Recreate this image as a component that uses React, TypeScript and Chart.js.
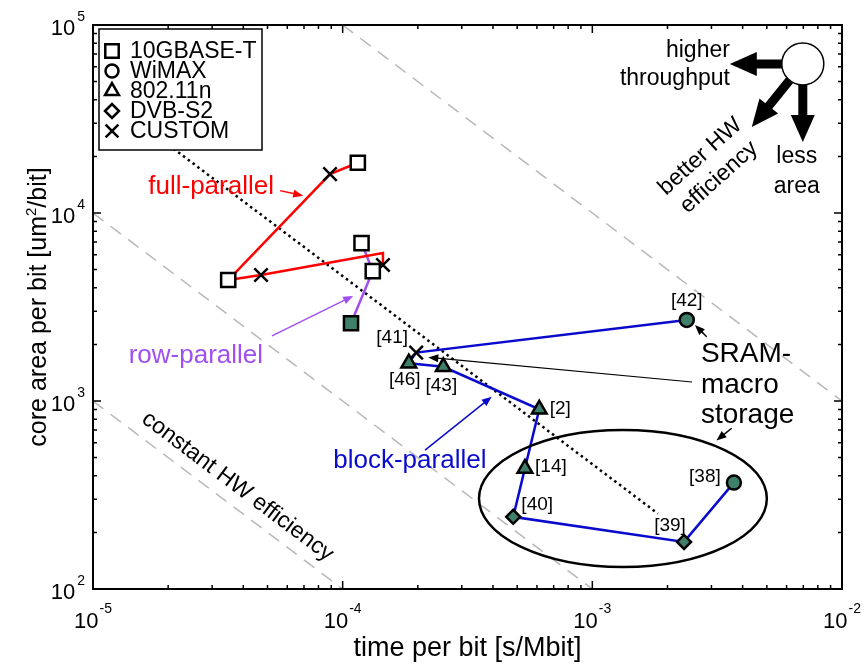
import React, { useEffect, useRef } from 'react';
import { Chart, registerables } from 'chart.js';

Chart.register(...registerables);

const GREEN = '#3f806a';
const RED = '#ff0000';
const PURPLE = '#a04ff0';
const BLUE = '#0a0acc';
const GREY = '#b8b8b8';
const FONT = '"Liberation Sans", Arial, Helvetica, sans-serif';

// ---------------- data ----------------
// 10GBASE-T (squares)
const squareX = [3.48e-5, 1.15e-4, 1.19e-4, 1.32e-4, 1.08e-4];
const squareY = [4.4e3, 1.85e4, 6.92e3, 4.91e3, 2.59e3];
const squareFilled = [false, false, false, false, true];
// WiMAX (circles)
const circleX = [2.39e-3, 3.69e-3];
const circleY = [2.7e3, 368];
const circleRefs = ['[42]', '[38]'];
// 802.11n (triangles)
const triangleX = [1.84e-4, 2.53e-4, 6.13e-4, 5.37e-4];
const triangleY = [1.59e3, 1.52e3, 903, 438];
const triangleRefs = ['[46]', '[43]', '[2]', '[14]'];
// DVB-S2 (diamonds)
const diamondX = [4.82e-4, 2.33e-3];
const diamondY = [242, 178];
const diamondRefs = ['[40]', '[39]'];
// CUSTOM (crosses)
const customX = [8.9e-5, 4.71e-5, 1.45e-4, 1.97e-4];
const customY = [1.61e4, 4.68e3, 5.29e3, 1.81e3];
const customRefs = ['', '', '', '[41]'];

// architecture connection lines
const fullParallelAX = [3.48e-5, 8.9e-5, 1.15e-4];
const fullParallelAY = [4.4e3, 1.61e4, 1.85e4];
const fullParallelBX = [3.48e-5, 4.71e-5, 1.45e-4, 1.45e-4];
const fullParallelBY = [4.4e3, 4.68e3, 6.13e3, 5.29e3];
const rowParallelX = [1.19e-4, 1.32e-4, 1.08e-4];
const rowParallelY = [6.92e3, 4.91e3, 2.59e3];
const blockParallelX = [2.39e-3, 1.97e-4, 1.84e-4, 2.53e-4, 6.13e-4, 5.37e-4, 4.82e-4, 2.33e-3, 3.69e-3];
const blockParallelY = [2.7e3, 1.81e3, 1.59e3, 1.52e3, 903, 438, 242, 178, 368];

// constant HW efficiency reference lines (area*time = const)
const effHighX = [1e-4, 1e-2];
const effHighY = [1e5, 1e3];
const effMidX = [1e-5, 1e-3];
const effMidY = [1e4, 1e2];
const effLowX = [1e-5, 1e-4];
const effLowY = [1e3, 1e2];
// dotted trend line
const trendX = [2.1e-5, 1.83e-3];
const trendY = [2.2e4, 252];

// axis ranges
const xMin = 1e-5, xMax = 1e-2, yMin = 1e2, yMax = 1e5;

const legendNames = ['10GBASE-T', 'WiMAX', '802.11n', 'DVB-S2', 'CUSTOM'];
const legendStyles = ['rect', 'circle', 'triangle', 'rectRot', 'crossRot'];

// reference label offsets (px) relative to their marker
const refOffsets: Record<string, [number, number]> = {
  '[42]': [0, -19], '[38]': [-29, -6], '[46]': [-4, 17], '[43]': [-2, 19],
  '[2]': [21, -1], '[14]': [26, -2], '[40]': [24, -12], '[39]': [-14, -16], '[41]': [-24, -15],
};

// annotations in log10 data coordinates
const textNotes = [
  { lines: ['full-parallel'], lx: -4.527, ly: 4.138, color: RED, size: 26, align: 'center' },
  { lines: ['row-parallel'], lx: -4.588, ly: 3.239, color: PURPLE, size: 26, align: 'center' },
  { lines: ['block-parallel'], lx: -3.731, ly: 2.681, color: BLUE, size: 26, align: 'center' },
];
const arrowNotes = [
  { from: [-4.251, 4.119], to: [-4.158, 4.092], color: RED, w: 1.5 },
  { from: [-4.283, 3.346], to: [-3.958, 3.559], color: PURPLE, w: 1.5 },
  { from: [-3.670, 2.739], to: [-3.403, 3.023], color: BLUE, w: 1.5 },
  { from: [-2.542, 3.342], to: [-2.589, 3.404], color: '#000', w: 1.5 },
  { from: [-2.601, 3.101], to: [-3.657, 3.232], color: '#000', w: 1.2 },
  { from: [-2.442, 2.855], to: [-2.503, 2.790], color: '#000', w: 1.5 },
];
const ellipseBox = { lx0: -3.454, lx1: -2.301, ly0: 2.117, ly1: 2.846 };

const zip = (xs: number[], ys: number[]) => xs.map((x, i) => ({ x, y: ys[i] }));

function drawMarker(ctx: CanvasRenderingContext2D, style: string, x: number, y: number, r: number, fill: string) {
  ctx.save();
  ctx.beginPath();
  ctx.lineWidth = 2.5;
  ctx.strokeStyle = '#000';
  ctx.fillStyle = fill;
  if (style === 'rect') {
    const s = r * Math.SQRT1_2;
    ctx.rect(x - s, y - s, 2 * s, 2 * s);
  } else if (style === 'circle') {
    ctx.arc(x, y, r, 0, Math.PI * 2);
  } else if (style === 'triangle') {
    for (let i = 0; i < 3; i++) {
      const a = (i * 2 * Math.PI) / 3;
      const px = x + Math.sin(a) * r, py = y - Math.cos(a) * r;
      if (i === 0) ctx.moveTo(px, py); else ctx.lineTo(px, py);
    }
    ctx.closePath();
  } else if (style === 'rectRot') {
    ctx.moveTo(x - r, y); ctx.lineTo(x, y - r); ctx.lineTo(x + r, y); ctx.lineTo(x, y + r); ctx.closePath();
  } else if (style === 'crossRot') {
    const o = r * Math.SQRT1_2;
    ctx.moveTo(x - o, y - o); ctx.lineTo(x + o, y + o);
    ctx.moveTo(x + o, y - o); ctx.lineTo(x - o, y + o);
    ctx.stroke();
    ctx.restore();
    return;
  }
  ctx.fill();
  ctx.stroke();
  ctx.restore();
}

function drawArrow(ctx: CanvasRenderingContext2D, x1: number, y1: number, x2: number, y2: number,
  color: string, lw: number, headLen: number, headHalf: number) {
  const a = Math.atan2(y2 - y1, x2 - x1);
  const c = Math.cos(a), s = Math.sin(a);
  const bx = x2 - c * headLen, by = y2 - s * headLen;
  ctx.save();
  ctx.strokeStyle = color;
  ctx.fillStyle = color;
  ctx.lineWidth = lw;
  ctx.lineCap = 'butt';
  ctx.beginPath();
  ctx.moveTo(x1, y1);
  ctx.lineTo(bx + c * 1, by + s * 1);
  ctx.stroke();
  ctx.beginPath();
  ctx.moveTo(x2, y2);
  ctx.lineTo(bx - s * headHalf, by + c * headHalf);
  ctx.lineTo(bx + s * headHalf, by - c * headHalf);
  ctx.closePath();
  ctx.fill();
  ctx.restore();
}

const decorPlugin = {
  id: 'decor',
  afterDraw(chart: any) {
    const ctx: CanvasRenderingContext2D = chart.ctx;
    const xs = chart.scales.x, ys = chart.scales.y;
    const area = chart.chartArea;
    const PX = (lx: number) => xs.getPixelForValue(Math.pow(10, lx));
    const PY = (ly: number) => ys.getPixelForValue(Math.pow(10, ly));
    const font = (sz: number) => `${sz}px ${FONT}`;

    ctx.save();
    // ellipse
    {
      const x0 = PX(ellipseBox.lx0), x1 = PX(ellipseBox.lx1);
      const y0 = PY(ellipseBox.ly1), y1 = PY(ellipseBox.ly0);
      ctx.beginPath();
      ctx.ellipse((x0 + x1) / 2, (y0 + y1) / 2, (x1 - x0) / 2, (y1 - y0) / 2, 0, 0, Math.PI * 2);
      ctx.lineWidth = 2.5;
      ctx.strokeStyle = '#000';
      ctx.stroke();
    }

    // constant HW efficiency rotated text, aligned with the efficiency lines
    {
      const ax = xs.getPixelForValue(effMidX[0]), ay = ys.getPixelForValue(effMidY[0]);
      const bx = xs.getPixelForValue(effMidX[1]), by = ys.getPixelForValue(effMidY[1]);
      const ang = Math.atan2(by - ay, bx - ax);
      ctx.save();
      ctx.translate(PX(-4.421), PY(2.545));
      ctx.rotate(ang);
      ctx.font = font(23);
      ctx.fillStyle = '#000';
      ctx.textAlign = 'center';
      ctx.textBaseline = 'middle';
      ctx.fillText('constant HW efficiency', 0, 0);
      ctx.restore();
    }

    // colored architecture labels
    for (const t of textNotes) {
      ctx.font = font(t.size);
      ctx.fillStyle = t.color;
      ctx.textAlign = t.align as CanvasTextAlign;
      ctx.textBaseline = 'middle';
      t.lines.forEach((ln, i) => ctx.fillText(ln, PX(t.lx), PY(t.ly) + i * 30));
    }

    // SRAM macro storage
    ctx.font = font(28);
    ctx.fillStyle = '#000';
    ctx.textAlign = 'left';
    ctx.textBaseline = 'alphabetic';
    ['SRAM-', 'macro', 'storage'].forEach((ln, i) => ctx.fillText(ln, PX(-2.565), PY(3.207) + i * 30.5));

    // arrows
    for (const a of arrowNotes) {
      drawArrow(ctx, PX(a.from[0]), PY(a.from[1]), PX(a.to[0]), PY(a.to[1]), a.color, a.w, 10, 4);
    }

    // reference labels next to markers
    ctx.font = font(19);
    ctx.fillStyle = '#000';
    ctx.textAlign = 'center';
    ctx.textBaseline = 'middle';
    const refSets: [number[], number[], string[]][] = [
      [circleX, circleY, circleRefs], [triangleX, triangleY, triangleRefs],
      [diamondX, diamondY, diamondRefs], [customX, customY, customRefs],
    ];
    for (const [X, Y, R] of refSets) {
      R.forEach((r, i) => {
        if (!r) return;
        const o = refOffsets[r] || [0, 0];
        ctx.fillText(r, xs.getPixelForValue(X[i]) + o[0], ys.getPixelForValue(Y[i]) + o[1]);
      });
    }

    // direction diagram (top right)
    {
      const cx = PX(-2.157), cy = PY(4.793);
      drawArrow(ctx, cx, cy, cx - 73, cy, '#000', 9, 27, 12);
      drawArrow(ctx, cx, cy, cx, cy + 78, '#000', 9, 27, 12);
      drawArrow(ctx, cx, cy, cx - 51, cy + 63, '#000', 9, 27, 12);
      ctx.beginPath();
      ctx.arc(cx, cy, 21, 0, Math.PI * 2);
      ctx.fillStyle = '#fff';
      ctx.fill();
      ctx.lineWidth = 1.5;
      ctx.strokeStyle = '#000';
      ctx.stroke();

      ctx.font = font(23);
      ctx.fillStyle = '#000';
      ctx.textAlign = 'right';
      ctx.textBaseline = 'alphabetic';
      ctx.fillText('higher', PX(-2.449), PY(4.83));
      ctx.fillText('throughput', PX(-2.449), PY(4.83) + 28);
      ctx.textAlign = 'center';
      ctx.fillText('less', PX(-2.181), PY(4.266));
      ctx.fillText('area', PX(-2.181), PY(4.266) + 30);
      ctx.save();
      ctx.translate(PX(-2.530), PY(4.245));
      ctx.rotate((-42 * Math.PI) / 180);
      ctx.textBaseline = 'middle';
      ctx.fillText('better HW', 0, -14);
      ctx.fillText('efficiency', 0, 14);
      ctx.restore();
    }

    // legend
    {
      const lx = area.left + 6, ly = area.top + 4, lw = 163, lh = 121;
      ctx.fillStyle = '#fff';
      ctx.fillRect(lx, ly, lw, lh);
      ctx.lineWidth = 1.5;
      ctx.strokeStyle = '#000';
      ctx.strokeRect(lx, ly, lw, lh);
      const radii: Record<string, number> = { rect: 9.5, circle: 6.5, triangle: 8, rectRot: 7, crossRot: 9 };
      legendNames.forEach((n, i) => {
        const yy = ly + 22 + i * 20;
        drawMarker(ctx, legendStyles[i], lx + 13, yy, radii[legendStyles[i]], '#fff');
        ctx.font = font(23);
        ctx.fillStyle = '#000';
        ctx.textAlign = 'left';
        ctx.textBaseline = 'alphabetic';
        ctx.fillText(n, lx + 31, yy + 7);
      });
    }

    // axes box and ticks (matlab style, inward, mirrored)
    ctx.strokeStyle = '#000';
    ctx.lineWidth = 2;
    ctx.strokeRect(area.left, area.top, area.right - area.left, area.bottom - area.top);
    ctx.lineWidth = 1.5;
    const tickVals = (mn: number, mx: number) => {
      const out: { v: number; major: boolean; e: number }[] = [];
      for (let e = Math.floor(Math.log10(mn)); e <= Math.ceil(Math.log10(mx)); e++) {
        for (let k = 1; k <= 9; k++) {
          const v = k * Math.pow(10, e);
          if (v >= mn * 0.999 && v <= mx * 1.001) out.push({ v, major: k === 1, e });
        }
      }
      return out;
    };
    ctx.beginPath();
    for (const t of tickVals(xMin, xMax)) {
      const p = xs.getPixelForValue(t.v);
      const len = t.major ? 8 : 4;
      ctx.moveTo(p, area.bottom); ctx.lineTo(p, area.bottom - len);
      ctx.moveTo(p, area.top); ctx.lineTo(p, area.top + len);
    }
    for (const t of tickVals(yMin, yMax)) {
      const p = ys.getPixelForValue(t.v);
      const len = t.major ? 8 : 4;
      ctx.moveTo(area.left, p); ctx.lineTo(area.left + len, p);
      ctx.moveTo(area.right, p); ctx.lineTo(area.right - len, p);
    }
    ctx.stroke();

    // tick labels 10^n
    ctx.fillStyle = '#000';
    ctx.textBaseline = 'alphabetic';
    ctx.textAlign = 'left';
    for (const t of tickVals(xMin, xMax)) {
      if (!t.major) continue;
      const p = xs.getPixelForValue(t.v);
      ctx.font = font(22);
      const wb = ctx.measureText('10').width;
      ctx.font = font(14);
      const ex = String(t.e);
      const we = ctx.measureText(ex).width;
      const start = p - (wb + we + 1) / 2;
      ctx.font = font(22);
      ctx.fillText('10', start, area.bottom + 39);
      ctx.font = font(14);
      ctx.fillText(ex, start + wb + 1, area.bottom + 24);
    }
    for (const t of tickVals(yMin, yMax)) {
      if (!t.major) continue;
      const p = ys.getPixelForValue(t.v);
      ctx.font = font(14);
      const ex = String(t.e);
      const we = ctx.measureText(ex).width;
      ctx.font = font(22);
      const wb = ctx.measureText('10').width;
      const right = area.left - 8;
      ctx.font = font(14);
      ctx.fillText(ex, right - we, p - 4);
      ctx.font = font(22);
      ctx.fillText('10', right - we - 2 - wb, p + 10);
    }

    // axis titles
    ctx.font = font(27);
    ctx.textAlign = 'center';
    ctx.fillText('time per bit [s/Mbit]', (area.left + area.right) / 2, area.bottom + 67);
    {
      ctx.save();
      ctx.translate(46, (area.top + area.bottom) / 2);
      ctx.rotate(-Math.PI / 2);
      ctx.textAlign = 'left';
      const p1 = 'core area per bit [um', p2 = '2', p3 = '/bit]';
      ctx.font = font(25);
      const w1 = ctx.measureText(p1).width, w3 = ctx.measureText(p3).width;
      ctx.font = font(15);
      const w2 = ctx.measureText(p2).width;
      let x0 = -(w1 + w2 + w3) / 2;
      ctx.font = font(25);
      ctx.fillText(p1, x0, 0);
      ctx.font = font(15);
      ctx.fillText(p2, x0 + w1, -10);
      ctx.font = font(25);
      ctx.fillText(p3, x0 + w1 + w2, 0);
      ctx.restore();
    }
    ctx.restore();
  },
};

export default function App() {
  const ref = useRef<HTMLCanvasElement>(null);
  useEffect(() => {
    document.body.style.margin = '0';
    const markerBase = { showLine: false, pointBorderColor: '#000', pointBorderWidth: 2.5, order: 0 };
    const lineBase = { showLine: true, pointRadius: 0, borderWidth: 2.5, tension: 0, fill: false, order: 1 };
    const chart = new Chart(ref.current as HTMLCanvasElement, {
      type: 'scatter',
      data: {
        datasets: [
          { label: '10GBASE-T', data: zip(squareX, squareY), pointStyle: 'rect', pointRadius: 10,
            pointBackgroundColor: squareFilled.map((f) => (f ? GREEN : '#fff')), ...markerBase },
          { label: 'WiMAX', data: zip(circleX, circleY), pointStyle: 'circle', pointRadius: 7,
            pointBackgroundColor: GREEN, ...markerBase },
          { label: '802.11n', data: zip(triangleX, triangleY), pointStyle: 'triangle', pointRadius: 8.5,
            pointBackgroundColor: GREEN, ...markerBase },
          { label: 'DVB-S2', data: zip(diamondX, diamondY), pointStyle: 'rectRot', pointRadius: 7,
            pointBackgroundColor: GREEN, ...markerBase },
          { label: 'CUSTOM', data: zip(customX, customY), pointStyle: 'crossRot', pointRadius: 9.5,
            pointBackgroundColor: '#000', ...markerBase },
          { label: 'full-parallel A', data: zip(fullParallelAX, fullParallelAY), borderColor: RED, ...lineBase },
          { label: 'full-parallel B', data: zip(fullParallelBX, fullParallelBY), borderColor: RED, ...lineBase },
          { label: 'row-parallel', data: zip(rowParallelX, rowParallelY), borderColor: PURPLE, ...lineBase },
          { label: 'block-parallel', data: zip(blockParallelX, blockParallelY), borderColor: BLUE, ...lineBase },
          { label: 'trend', data: zip(trendX, trendY), borderColor: '#000', ...lineBase, borderWidth: 2.5,
            borderDash: [2.5, 3.5], order: 2 },
          { label: 'eff10', data: zip(effHighX, effHighY), borderColor: GREY, ...lineBase, borderWidth: 1.5,
            borderDash: [13, 9], order: 3 },
          { label: 'eff0.1', data: zip(effMidX, effMidY), borderColor: GREY, ...lineBase, borderWidth: 1.5,
            borderDash: [13, 9], order: 3 },
          { label: 'eff0.01', data: zip(effLowX, effLowY), borderColor: GREY, ...lineBase, borderWidth: 1.5,
            borderDash: [13, 9], order: 3 },
        ] as any,
      },
      options: {
        animation: false,
        responsive: true,
        maintainAspectRatio: false,
        events: [],
        layout: { padding: { top: 25, right: 23, left: 0, bottom: 0 } },
        plugins: { legend: { display: false }, tooltip: { enabled: false } },
        scales: {
          x: {
            type: 'logarithmic', min: xMin, max: xMax,
            grid: { display: false }, border: { display: false },
            ticks: { display: false, autoSkip: false },
            afterFit: (s: any) => { s.height = 75; },
          },
          y: {
            type: 'logarithmic', min: yMin, max: yMax,
            grid: { display: false }, border: { display: false },
            ticks: { display: false, autoSkip: false },
            afterFit: (s: any) => { s.width = 93; },
          },
        },
      } as any,
      plugins: [decorPlugin],
    });
    return () => chart.destroy();
  }, []);
  return (
    <div style={{ position: 'absolute', left: 0, top: 0, width: 865, height: 664 }}>
      <canvas ref={ref} />
    </div>
  );
}
